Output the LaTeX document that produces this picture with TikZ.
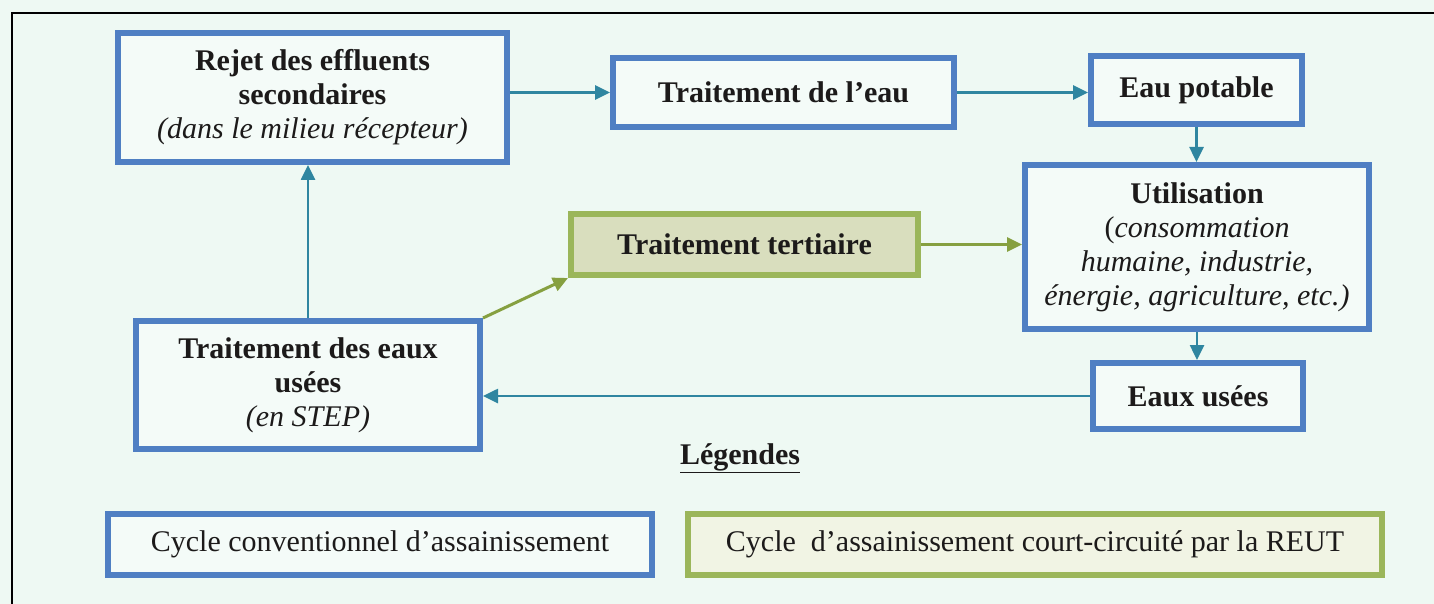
\documentclass[tikz,border=0pt]{standalone}
\usepackage{fontspec}
\setmainfont{Liberation Serif}
\usetikzlibrary{arrows.meta}
\definecolor{bgmint}{HTML}{EEF9F3}
\definecolor{boxfill}{HTML}{F4FBF8}
\definecolor{bluebrd}{HTML}{4F7FC3}
\definecolor{tealarr}{HTML}{2F86A0}
\definecolor{greenbrd}{HTML}{9BB65A}
\definecolor{greenarr}{HTML}{86A040}
\definecolor{tertfill}{HTML}{D9DEBE}
\definecolor{leg2fill}{HTML}{F1F4E4}
\definecolor{txt}{HTML}{1C1A1A}
\tikzset{
  x=1pt, y=-1pt,
  bluebox/.style={draw=bluebrd, line width=6pt, fill=boxfill, text=txt, align=center,
    inner sep=0pt, font=\fontsize{30}{34}\selectfont},
  greenbox/.style={draw=greenbrd, line width=6pt, fill=tertfill, text=txt, align=center,
    inner sep=0pt, font=\fontsize{30}{34}\selectfont},
  tealline/.style={draw=tealarr, line width=2.6pt, -{Triangle[length=15pt,width=14pt]}},
  greenline/.style={draw=greenarr, line width=3pt, -{Triangle[length=15pt,width=14pt]}},
}
\begin{document}
\begin{tikzpicture}
\clip (0,0) rectangle (1434,604);
\fill[bgmint] (0,0) rectangle (1434,604);
\draw[black, line width=2.6pt] (12,700) -- (12,13) -- (1500,13);

\node[bluebox, minimum width=389pt, minimum height=129pt] (rejet) at (312.5,97.5)
  {\textbf{Rejet des effluents}\\\textbf{secondaires}\\\textit{(dans le milieu récepteur)}};
\node[bluebox, minimum width=341pt, minimum height=69pt] (tde) at (783.5,92.5)
  {\textbf{Traitement de l’eau}};
\node[bluebox, minimum width=211pt, minimum height=68pt] (ep) at (1196.5,90)
  {\textbf{Eau potable}};
\node[bluebox, minimum width=344pt, minimum height=164pt] (util) at (1197,247)
  {\textbf{Utilisation}\\(\textit{consommation}\\\textit{humaine, industrie,}\\\textit{énergie, agriculture, etc.)}};
\node[bluebox, minimum width=210pt, minimum height=66pt] (eu) at (1198,396)
  {\textbf{Eaux usées}};
\node[bluebox, minimum width=344pt, minimum height=128pt] (teu) at (308,385)
  {\textbf{Traitement des eaux}\\\textbf{usées}\\\textit{(en STEP)}};
\node[greenbox, minimum width=347pt, minimum height=61pt] (tert) at (744.5,244.5)
  {\textbf{Traitement tertiaire}};

\node[text=txt, font=\fontsize{30}{34}\selectfont\bfseries, inner sep=0pt] (leg) at (740,458)
  {\underline{Légendes}};
\node[bluebox, minimum width=544pt, minimum height=61pt] (leg1) at (380,544.5)
  {Cycle conventionnel d’assainissement};
\node[greenbox, fill=leg2fill, minimum width=694pt, minimum height=61pt] (leg2) at (1035,544.5)
  {Cycle\ \ d’assainissement court-circuité par la REUT};

\draw[tealline] (rejet.east |- tde.west) -- (tde.west);
\draw[tealline] (tde.east) -- (tde.east -| ep.west);
\draw[tealline] (ep.south) -- (ep.south |- util.north);
\draw[tealline] (util.south) -- (util.south |- eu.north);
\draw[tealline] (eu.west) -- (eu.west -| teu.east);
\draw[tealline] (teu.north) -- (teu.north |- rejet.south);
\draw[greenline] (teu.north east) -- (tert.south west);
\draw[greenline] (tert.east) -- (tert.east -| util.west);
\end{tikzpicture}
\end{document}
